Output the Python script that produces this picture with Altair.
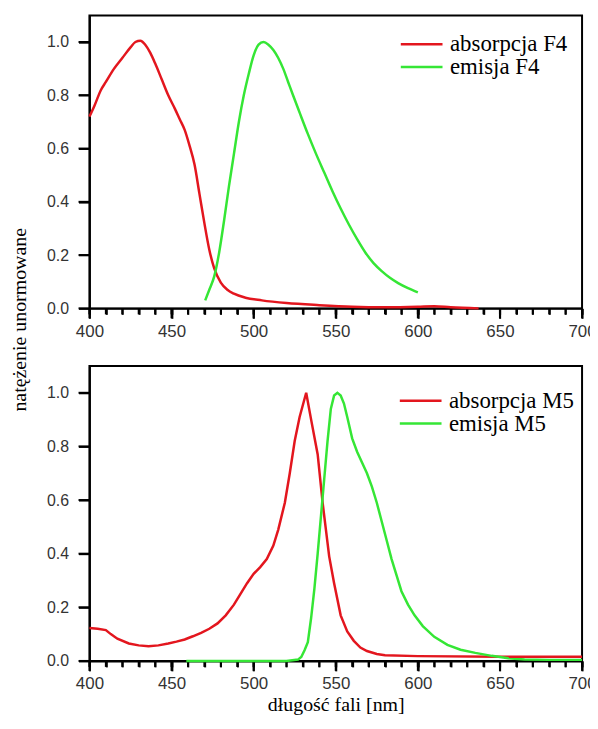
import altair as alt
import pandas as pd

# ---------------- data ----------------
abs_f4_nm = [400, 403, 407, 410, 415, 420, 425, 428, 431, 434, 437, 440, 444, 448, 452, 455, 458, 461,
             464, 467, 470, 473, 476, 480, 484, 488, 495, 505, 520, 540, 560, 580, 600, 610, 620, 637]
abs_f4_val = [0.72, 0.76, 0.82, 0.85, 0.90, 0.94, 0.98, 1.0, 1.005, 0.99, 0.96, 0.92, 0.86, 0.80, 0.75,
              0.71, 0.67, 0.61, 0.54, 0.43, 0.32, 0.22, 0.15, 0.097, 0.07, 0.055, 0.04, 0.03, 0.02,
              0.012, 0.006, 0.004, 0.006, 0.008, 0.004, 0.0]

em_f4_nm = [470.5, 473, 476, 479, 482, 485, 488, 491, 494, 497, 500, 503, 506, 509, 512, 515, 518, 521,
            524, 528, 533, 538, 543, 548, 553, 558, 563, 568, 573, 578, 583, 588, 594, 600]
em_f4_val = [0.03, 0.07, 0.12, 0.21, 0.33, 0.46, 0.58, 0.70, 0.80, 0.88, 0.95, 0.99, 1.0, 0.99, 0.97,
             0.94, 0.90, 0.85, 0.80, 0.735, 0.655, 0.58, 0.51, 0.44, 0.375, 0.315, 0.26, 0.21, 0.17,
             0.14, 0.115, 0.095, 0.076, 0.06]

abs_m5_nm = [400, 405, 410, 413, 417, 424, 430, 436, 442, 448, 453, 458, 463, 468, 473, 478, 483, 488,
             492, 496, 500, 504, 508, 512, 515, 519, 522, 525, 528, 532, 535, 539, 542, 546, 549, 553,
             557, 561, 565, 569, 575, 580, 600, 650, 700]
abs_m5_val = [0.123, 0.12, 0.115, 0.10, 0.083, 0.065, 0.058, 0.055, 0.058, 0.065, 0.072, 0.08, 0.092,
              0.105, 0.12, 0.14, 0.17, 0.21, 0.25, 0.29, 0.325, 0.35, 0.38, 0.43, 0.49, 0.59, 0.70,
              0.82, 0.91, 1.0, 0.90, 0.77, 0.59, 0.39, 0.29, 0.17, 0.11, 0.075, 0.05, 0.037, 0.026,
              0.021, 0.018, 0.016, 0.016]

em_m5_nm = [459, 480, 500, 520, 527, 529, 531, 533, 535, 537, 539, 541, 543, 545, 547, 549, 551, 553,
            555, 557, 560, 563, 566, 569, 572, 575, 578, 581, 584, 587, 590, 594, 598, 603, 610, 618,
            626, 635, 645, 655, 665, 680, 700]
em_m5_val = [0.0, 0.0, 0.0, 0.0, 0.005, 0.015, 0.04, 0.07, 0.16, 0.27, 0.40, 0.54, 0.68, 0.82, 0.94,
             0.99, 1.0, 0.99, 0.96, 0.91, 0.83, 0.78, 0.74, 0.70, 0.65, 0.59, 0.52, 0.45, 0.38, 0.32,
             0.26, 0.21, 0.17, 0.13, 0.09, 0.06, 0.042, 0.03, 0.019, 0.01, 0.005, 0.004, 0.004]

major_ticks = [400, 450, 500, 550, 600, 650, 700]
minor_ticks = list(range(400, 701, 10))
y_ticks = [0.0, 0.2, 0.4, 0.6, 0.8, 1.0]

RED = "#e3161e"
GREEN = "#35e635"
SANS = "Liberation Sans"
SERIF = "Liberation Serif"


def panel(abs_nm, abs_val, em_nm, em_val, abs_name, em_name, height, x_title, y_title,
          legend_x, legend_y, interp):
    df_a = pd.DataFrame({"nm": abs_nm, "val": abs_val, "series": abs_name})
    df_e = pd.DataFrame({"nm": em_nm, "val": em_val, "series": em_name})
    df_major = pd.DataFrame({"t": major_ticks})
    df_minor = pd.DataFrame({"t": minor_ticks})
    df_yt = pd.DataFrame({"t": y_ticks})

    xscale = alt.Scale(domain=[400, 700], nice=False, zero=False)
    yscale = alt.Scale(domain=[0, 1.1], nice=False, zero=False)

    major_kw = dict(values=major_ticks, ticks=True, tickSize=10, tickWidth=2, tickColor="black",
                    domain=True, domainColor="black", domainWidth=2, labelFont=SANS,
                    labelFontSize=17, labelColor="#333333", labelPadding=5, labelFlush=False,
                    grid=False, orient="bottom")
    if x_title:
        major_kw.update(title=x_title, titleFont=SERIF, titleFontSize=20,
                        titleFontWeight="normal", titleColor="black", titlePadding=3)
    else:
        major_kw.update(title=None)
    major_axis = alt.Axis(**major_kw)
    minor_axis = alt.Axis(values=minor_ticks, ticks=True, tickSize=6, tickWidth=2,
                          tickColor="black", labels=False, domain=False, grid=False,
                          title=None, orient="bottom")

    y_kw = dict(values=y_ticks, format=".1f", ticks=True, tickSize=11, tickWidth=2,
                tickColor="black", domainColor="black", domainWidth=2, labelFont=SANS,
                labelFontSize=16, labelColor="#333333", labelPadding=10, labelFlush=False,
                grid=False)
    if y_title:
        y_kw.update(title=y_title, titleFont=SERIF, titleFontSize=20, titleFontWeight="normal",
                    titleColor="black", titleX=-60, titleY=-47, titleAngle=270,
                    titleAlign="center", titleBaseline="bottom")
    else:
        y_kw.update(title=None)
    y_axis = alt.Axis(**y_kw)

    legend = alt.Legend(title=None, orient="none", legendX=legend_x, legendY=legend_y,
                        padding=0, symbolType="stroke", symbolSize=1764, symbolStrokeWidth=2.5,
                        labelFont=SERIF, labelFontSize=23, labelColor="black", labelOffset=6,
                        labelLimit=400, clipHeight=22, rowPadding=-1)
    color = dict(scale=alt.Scale(domain=[abs_name, em_name], range=[RED, GREEN]), legend=legend)

    red = alt.Chart(df_a).mark_line(strokeWidth=2.5, interpolate=interp).encode(
        x=alt.X("nm:Q", scale=xscale, axis=major_axis),
        y=alt.Y("val:Q", scale=yscale, axis=y_axis),
        color=alt.Color("series:N", **color),
    )
    green = alt.Chart(df_e).mark_line(strokeWidth=2.5, interpolate=interp).encode(
        x=alt.X("nm:Q", scale=xscale, axis=minor_axis),
        y=alt.Y("val:Q", scale=yscale, axis=y_axis),
        color=alt.Color("series:N", **color),
    )
    # explicit tick marks (major / minor on x, major on y)
    xmaj = alt.Chart(df_major).mark_rule(color="black", strokeWidth=2).encode(
        x=alt.X("t:Q", scale=xscale, axis=None),
        y=alt.value(height), y2=alt.value(height + 10),
    )
    xmin = alt.Chart(df_minor).mark_rule(color="black", strokeWidth=2).encode(
        x=alt.X("t:Q", scale=xscale, axis=None),
        y=alt.value(height), y2=alt.value(height + 6),
    )
    ytk = alt.Chart(df_yt).mark_rule(color="black", strokeWidth=2).encode(
        y=alt.Y("t:Q", scale=yscale, axis=y_axis),
        x=alt.value(0), x2=alt.value(-11),
    )
    return (alt.layer(xmaj, xmin, ytk, red, green)
            .resolve_axis(x="independent")
            .properties(width=496, height=height))


top = panel(abs_f4_nm, abs_f4_val, em_f4_nm, em_f4_val, "absorpcja F4", "emisja F4",
            295, None, None, 312, 18, "monotone")
bottom = panel(abs_m5_nm, abs_m5_val, em_m5_nm, em_m5_val, "absorpcja M5", "emisja M5",
               297, "długość fali [nm]", "natężenie unormowane", 311, 24, "linear")

chart = (
    alt.vconcat(top, bottom, spacing=58, bounds="flush")
    .resolve_scale(color="independent")
    .resolve_legend(color="independent")
    .properties(padding={"left": 0, "top": 4, "right": -8, "bottom": -2}, background="white")
    .configure_view(stroke="black", strokeWidth=2)
)

chart.save("out.html", embed_options={"renderer": "svg", "actions": False})
